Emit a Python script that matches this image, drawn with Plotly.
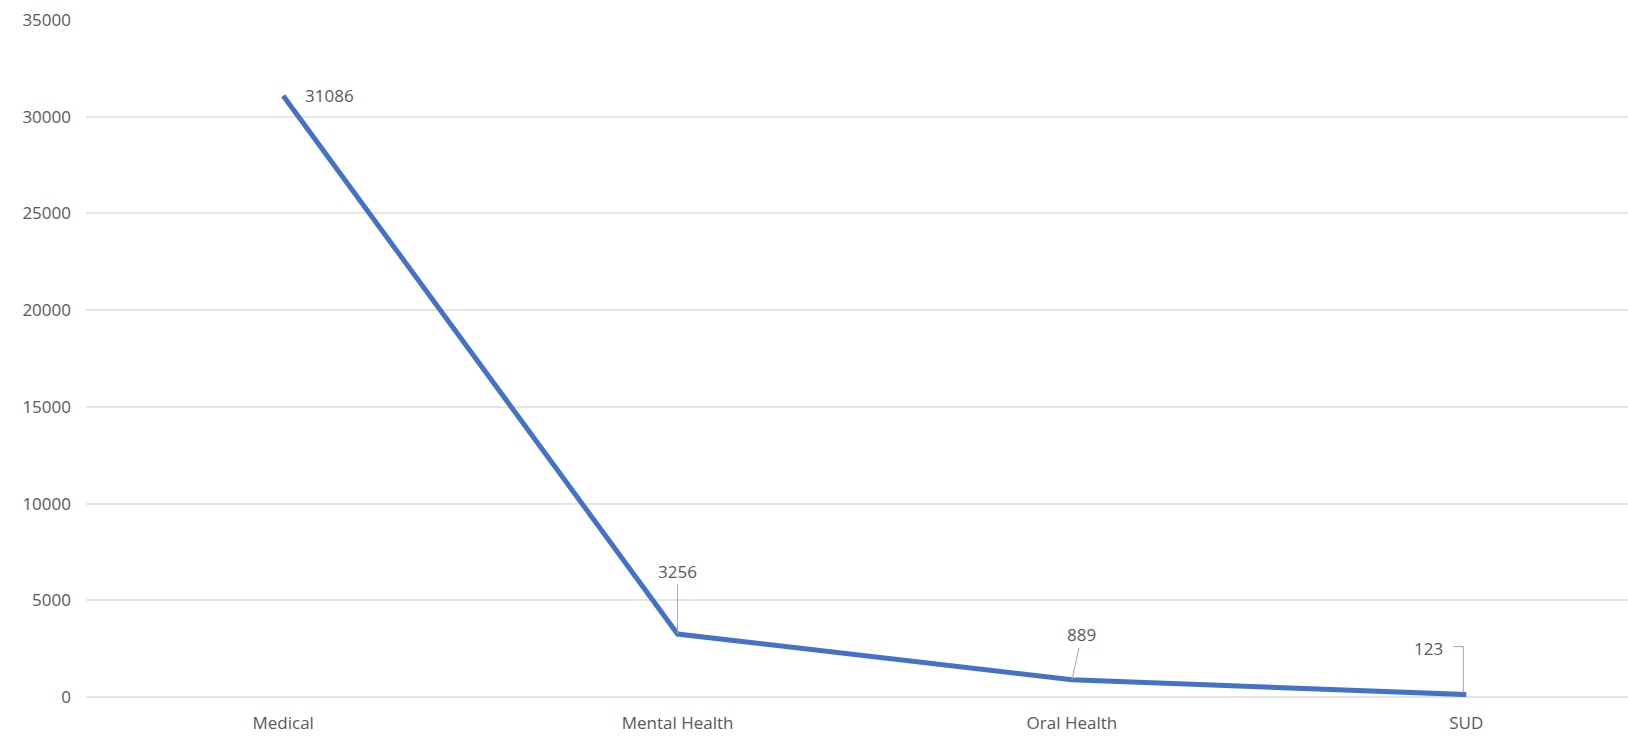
import plotly.graph_objects as go

categories = ["Medical", "Mental Health", "Oral Health", "SUD"]
values = [31086, 3256, 889, 123]
y_ticks = [0, 5000, 10000, 15000, 20000, 25000, 30000, 35000]

FONT = "Open Sans"
TXT = "#595959"

fig = go.Figure()
fig.add_trace(go.Scatter(
    x=categories, y=values, mode="lines",
    line=dict(color="#4472C4", width=5),
    hoverinfo="skip", showlegend=False,
))

# data labels (offsets in pixels relative to each point)
label_cfg = [
    dict(showarrow=False, xanchor="left", yanchor="middle", xshift=20, yshift=0),
    dict(showarrow=True, ax=0, ay=-63),
    dict(showarrow=True, ax=10, ay=-45),
    dict(showarrow=False, xanchor="center", yanchor="middle", xshift=-38, yshift=46),
]
for cat, val, cfg in zip(categories, values, label_cfg):
    fig.add_annotation(
        x=cat, y=val, xref="x", yref="y", text=str(val),
        font=dict(family=FONT, size=17, color=TXT),
        arrowhead=0, arrowwidth=1, arrowcolor="#a6a6a6", standoff=0,
        **cfg,
    )

# elbow leader line for the last label
fig.add_shape(
    type="path", xref="x", yref="y",
    xsizemode="pixel", ysizemode="pixel",
    xanchor=categories[3], yanchor=values[3],
    path="M -3,2 L -3,48 L -13,48",
    line=dict(color="#a6a6a6", width=1),
)

fig.update_layout(
    width=1628, height=748,
    margin=dict(l=86, r=0, t=20, b=51),
    paper_bgcolor="white", plot_bgcolor="white",
    font=dict(family=FONT, size=17, color=TXT),
)
fig.update_xaxes(
    type="category", range=[-0.5, 3.41], showgrid=False, showline=False,
    zeroline=False, ticks="", ticklabelstandoff=14,
    tickfont=dict(family=FONT, size=17, color=TXT),
)
fig.update_yaxes(
    range=[0, 35000], tickvals=y_ticks, ticktext=[str(v) for v in y_ticks],
    showgrid=True, gridcolor="#e4e4e4", gridwidth=1.5,
    zeroline=True, zerolinecolor="#e4e4e4", zerolinewidth=1.5,
    showline=False, ticks="", ticklabelstandoff=14,
    tickfont=dict(family=FONT, size=17, color=TXT),
)

fig.write_html("out.html", config={"displayModeBar": False})
